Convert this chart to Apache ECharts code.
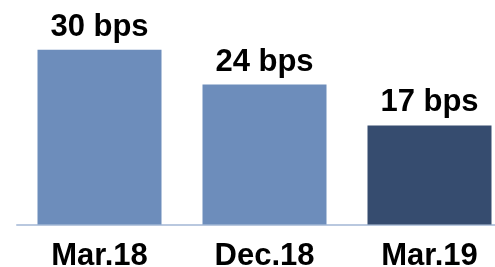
<!DOCTYPE html>
<html>
<head>
<meta charset="utf-8">
<script src="https://cdn.jsdelivr.net/npm/echarts@6/dist/echarts.min.js"></script>
<style>
    html, body { margin: 0; padding: 0; background: #fff; }
    #bar { width: 495px; height: 267px; }
</style>
</head>
<body>
<div id="bar"></div>
<script>
// 期间
const periods = ['Mar.18', 'Dec.18', 'Mar.19']
// 数值 (bps)
const values = [30, 24, 17]
// 颜色: 最后一根柱子深色
const barColors = ['#6d8dbb', '#6d8dbb', '#364c6f']

const barChart = echarts.init(document.getElementById('bar'))

const option = {
    animation: false,
    // 表格位置, 右边超出画布
    grid: {
        left: 17,
        top: 20.5,
        width: 495,
        height: 204,
        outerBoundsMode: 'none'
    },
    xAxis: {
        type: 'category',
        data: periods,
        axisLine: {
            lineStyle: { color: '#b9c8df', width: 2 }
        },
        axisTick: { show: false },
        axisLabel: {
            color: '#000',
            fontFamily: 'Liberation Sans, Arial, sans-serif',
            fontWeight: 'bold',
            fontSize: 31,
            margin: 16
        }
    },
    yAxis: {
        type: 'value',
        min: 0,
        max: 35,
        show: false,
        splitLine: { show: false }
    },
    series: [{
        type: 'bar',
        barWidth: 124,
        data: values.map((v, i) => ({
            value: v,
            itemStyle: { color: barColors[i] }
        })),
        label: {
            show: true,
            position: 'top',
            distance: 7,
            formatter: '{c} bps',
            color: '#000',
            fontFamily: 'Liberation Sans, Arial, sans-serif',
            fontWeight: 'bold',
            fontSize: 31
        }
    }]
}
barChart.setOption(option)
</script>
</body>
</html>
